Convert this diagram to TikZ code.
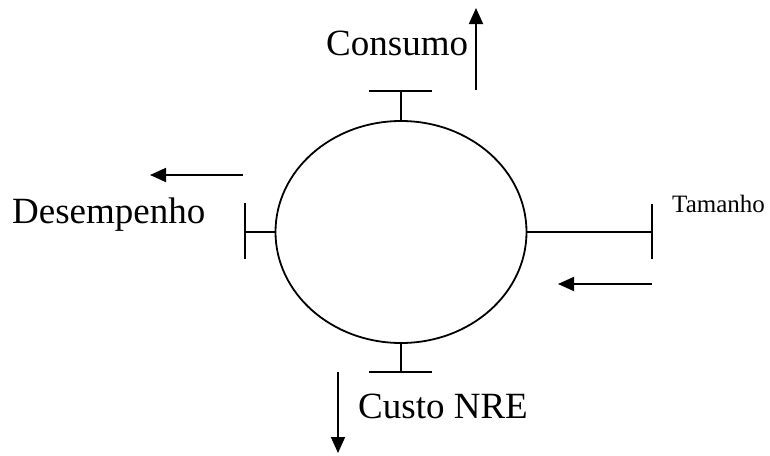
\documentclass[tikz,border=0pt]{standalone}
\usepackage{fontspec}
\setmainfont{Liberation Serif}
\usetikzlibrary{shapes.geometric,arrows.meta}
\begin{document}
\begin{tikzpicture}[x=1pt,y=-1pt,
  line/.style={line width=1.8pt},
  flow/.style={line width=1.8pt,-{Triangle[length=16pt,width=14pt]}},
  biglabel/.style={inner sep=0pt,anchor=base west,font=\fontsize{37}{44}\selectfont},
  smalllabel/.style={inner sep=0pt,anchor=base west,font=\fontsize{25}{30}\selectfont}]
\useasboundingbox (0,0) rectangle (770,455);

% central system
\node[ellipse,draw,line width=1.8pt,minimum width=251pt,minimum height=222pt,inner sep=0pt] (sys) at (401,232) {};

% stubs with end bars
\coordinate (tN) at (401,91);
\coordinate (tNa) at (369,91);
\coordinate (tNb) at (432,91);
\draw[line] (sys.north) -- (tN);
\draw[line] (tNa) -- (tNb);

\coordinate (tS) at (401,372);
\coordinate (tSa) at (369,372);
\coordinate (tSb) at (432,372);
\draw[line] (sys.south) -- (tS);
\draw[line] (tSa) -- (tSb);

\coordinate (tW) at (245,232);
\coordinate (tWa) at (245,203);
\coordinate (tWb) at (245,259);
\draw[line] (sys.west) -- (tW);
\draw[line] (tWa) -- (tWb);

\coordinate (tE) at (652,232);
\coordinate (tEa) at (652,204);
\coordinate (tEb) at (652,259);
\draw[line] (sys.east) -- (tE);
\draw[line] (tEa) -- (tEb);

% labels
\node[biglabel] (consumo) at (326,55) {Consumo};
\node[biglabel] (desemp) at (12,223) {Desempenho};
\node[smalllabel] (tamanho) at (672,212) {Tamanho};
\node[biglabel] (custo) at (358,418) {Custo NRE};

% trend arrows
\coordinate (aNs) at (476,90);
\coordinate (aNe) at (476,8);
\draw[flow] (aNs) -- (aNe);

\coordinate (aWs) at (243,175);
\coordinate (aWe) at (150,175);
\draw[flow] (aWs) -- (aWe);

\coordinate (aEs) at (652,284);
\coordinate (aEe) at (558,284);
\draw[flow] (aEs) -- (aEe);

\coordinate (aSs) at (338,372);
\coordinate (aSe) at (338,453);
\draw[flow] (aSs) -- (aSe);
\end{tikzpicture}
\end{document}
